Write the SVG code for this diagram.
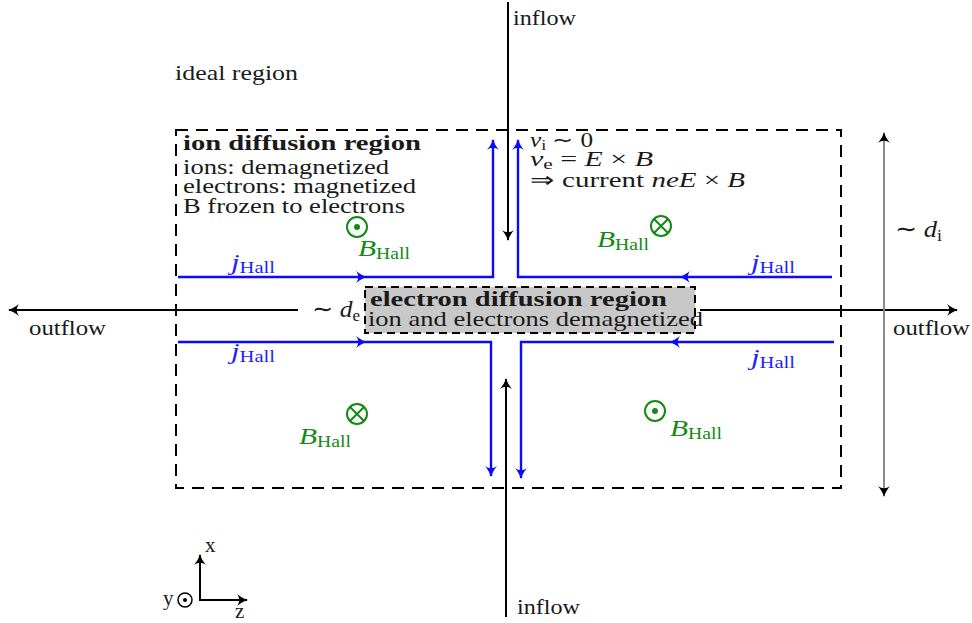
<svg xmlns="http://www.w3.org/2000/svg" width="972" height="623" viewBox="0 0 972 623">
<style>
text{font-family:"Liberation Serif","Times New Roman",serif;font-size:21px;fill:#1a1a1a}
.b{font-weight:bold}
.i{font-style:italic}
.sub{font-size:15px}
.lab{font-size:24px}
.lab .sub{font-size:16px}
.blue{fill:#1f1fff}
.green{fill:#138a13}
.k{stroke:#000;stroke-width:2;fill:none}
.bl{stroke:#0a0aff;stroke-width:2.4;fill:none}
.dash{stroke:#000;stroke-width:2;fill:none;stroke-dasharray:12 8}
.gc{stroke:#138a13;stroke-width:2;fill:none}
</style>
<defs>
<marker id="ak" markerWidth="14" markerHeight="14" refX="0" refY="0" viewBox="-12 -7 14 14" orient="auto" markerUnits="userSpaceOnUse">
<path d="M1,0 C-3,-1 -7,-3.5 -10,-6 C-7,-2 -7,2 -10,6 C-7,3.5 -3,1 1,0 Z" fill="#000"/>
</marker>
<marker id="ab" markerWidth="14" markerHeight="14" refX="0" refY="0" viewBox="-12 -7 14 14" orient="auto" markerUnits="userSpaceOnUse">
<path d="M1,0 C-3,-1 -7,-3.5 -10,-6 C-7,-2 -7,2 -10,6 C-7,3.5 -3,1 1,0 Z" fill="#0a0aff"/>
</marker>
<marker id="ag" markerWidth="14" markerHeight="14" refX="0" refY="0" viewBox="-12 -7 14 14" orient="auto-start-reverse" markerUnits="userSpaceOnUse">
<path d="M1,0 C-3,-1 -7,-3.5 -10,-6 C-7,-2 -7,2 -10,6 C-7,3.5 -3,1 1,0 Z" fill="#000"/>
</marker>
</defs>

<g id="ideal-region"><text x="175" y="80" textLength="123" lengthAdjust="spacingAndGlyphs">ideal region</text></g>

<g id="ion-diffusion-region">
<rect x="176" y="130" width="665" height="358" class="dash"/>
<text class="b" x="183" y="150" textLength="238" lengthAdjust="spacingAndGlyphs">ion diffusion region</text>
<text x="183" y="174" textLength="206" lengthAdjust="spacingAndGlyphs">ions: demagnetized</text>
<text x="183" y="193" textLength="233" lengthAdjust="spacingAndGlyphs">electrons: magnetized</text>
<text x="183" y="213" textLength="222" lengthAdjust="spacingAndGlyphs">B frozen to electrons</text>
</g>

<g id="electron-diffusion-region">
<rect x="365" y="287" width="330" height="46" fill="#c8c8c8" stroke="#000" stroke-width="2" stroke-dasharray="8 5"/>
<text class="b" x="370" y="306" textLength="297" lengthAdjust="spacingAndGlyphs">electron diffusion region</text>
<text x="368" y="326" textLength="335" lengthAdjust="spacingAndGlyphs">ion and electrons demagnetized</text>
</g>

<g id="connectors">
<path class="k" d="M508,2 V240" marker-end="url(#ak)"/>
<path class="k" d="M506,617 V379" marker-end="url(#ak)"/>
<path class="k" d="M298,310 H9" marker-end="url(#ak)"/>
<path class="k" d="M700,310 H957" marker-end="url(#ak)"/>
<path d="M884,133 V496" stroke="#8c8c8c" stroke-width="2" fill="none" marker-start="url(#ag)" marker-end="url(#ag)"/>
<path class="bl" d="M178,277 H366" marker-end="url(#ab)"/>
<path class="bl" d="M366,277 H493 V140" marker-end="url(#ab)"/>
<path class="bl" d="M832,277 H680" marker-end="url(#ab)"/>
<path class="bl" d="M680,277 H518 V140" marker-end="url(#ab)"/>
<path class="bl" d="M178,342 H366" marker-end="url(#ab)"/>
<path class="bl" d="M366,342 H491 V476" marker-end="url(#ab)"/>
<path class="bl" d="M834,342 H670" marker-end="url(#ab)"/>
<path class="bl" d="M670,342 H521 V478" marker-end="url(#ab)"/>
</g>

<g id="labels">
<text x="513" y="25" textLength="63" lengthAdjust="spacingAndGlyphs">inflow</text>
<text x="517" y="614" textLength="63" lengthAdjust="spacingAndGlyphs">inflow</text>
<text x="29" y="335" textLength="77" lengthAdjust="spacingAndGlyphs">outflow</text>
<text x="893" y="335" textLength="77" lengthAdjust="spacingAndGlyphs">outflow</text>
<text class="lab" x="312" y="317" textLength="48" lengthAdjust="spacingAndGlyphs">∼ <tspan class="i">d</tspan><tspan class="sub" dy="4">e</tspan></text>
<text class="lab" x="895" y="237" textLength="47" lengthAdjust="spacingAndGlyphs">∼ <tspan class="i">d</tspan><tspan class="sub" dy="4">i</tspan></text>
<text x="530" y="147" textLength="63" lengthAdjust="spacingAndGlyphs"><tspan class="i">v</tspan><tspan class="sub" dy="3">i</tspan><tspan dy="-3"> ∼ 0</tspan></text>
<text x="530" y="166" textLength="123" lengthAdjust="spacingAndGlyphs"><tspan class="i">v</tspan><tspan class="sub" dy="3">e</tspan><tspan dy="-3"> = </tspan><tspan class="i">E</tspan> × <tspan class="i">B</tspan></text>
<text x="530" y="187" textLength="215" lengthAdjust="spacingAndGlyphs">⇒ current <tspan class="i">neE</tspan> × <tspan class="i">B</tspan></text>
<text class="blue lab" x="231" y="270" textLength="44" lengthAdjust="spacingAndGlyphs"><tspan class="i">j</tspan><tspan class="sub" dy="3">Hall</tspan></text>
<text class="blue lab" x="751" y="270" textLength="44" lengthAdjust="spacingAndGlyphs"><tspan class="i">j</tspan><tspan class="sub" dy="3">Hall</tspan></text>
<text class="blue lab" x="231" y="359" textLength="44" lengthAdjust="spacingAndGlyphs"><tspan class="i">j</tspan><tspan class="sub" dy="3">Hall</tspan></text>
<text class="blue lab" x="751" y="365" textLength="44" lengthAdjust="spacingAndGlyphs"><tspan class="i">j</tspan><tspan class="sub" dy="3">Hall</tspan></text>
</g>

<g id="bhall-top-left">
<circle cx="357" cy="227" r="10" class="gc"/><circle cx="357" cy="227" r="3" fill="#138a13"/>
<text class="green lab" x="358" y="256" textLength="52" lengthAdjust="spacingAndGlyphs"><tspan class="i">B</tspan><tspan class="sub" dy="3">Hall</tspan></text>
</g>
<g id="bhall-top-right">
<circle cx="661" cy="226" r="10" class="gc"/><path class="gc" stroke-width="1.5" d="M654,219 L668,233 M668,219 L654,233"/>
<text class="green lab" x="597" y="247" textLength="52" lengthAdjust="spacingAndGlyphs"><tspan class="i">B</tspan><tspan class="sub" dy="3">Hall</tspan></text>
</g>
<g id="bhall-bottom-left">
<circle cx="357" cy="414" r="10" class="gc"/><path class="gc" stroke-width="1.5" d="M350,407 L364,421 M364,407 L350,421"/>
<text class="green lab" x="299" y="444" textLength="52" lengthAdjust="spacingAndGlyphs"><tspan class="i">B</tspan><tspan class="sub" dy="3">Hall</tspan></text>
</g>
<g id="bhall-bottom-right">
<circle cx="655" cy="411" r="10" class="gc"/><circle cx="655" cy="411" r="3" fill="#138a13"/>
<text class="green lab" x="670" y="436" textLength="52" lengthAdjust="spacingAndGlyphs"><tspan class="i">B</tspan><tspan class="sub" dy="3">Hall</tspan></text>
</g>

<g id="axes">
<path class="k" d="M200,601 V555" marker-end="url(#ak)"/>
<path class="k" d="M199,600 H247" marker-end="url(#ak)"/>
<circle cx="185" cy="600" r="7" fill="none" stroke="#000" stroke-width="1.5"/>
<circle cx="185" cy="600" r="2" fill="#000"/>
<text x="205" y="552">x</text>
<text x="163" y="605">y</text>
<text x="235" y="618">z</text>
</g>
</svg>
